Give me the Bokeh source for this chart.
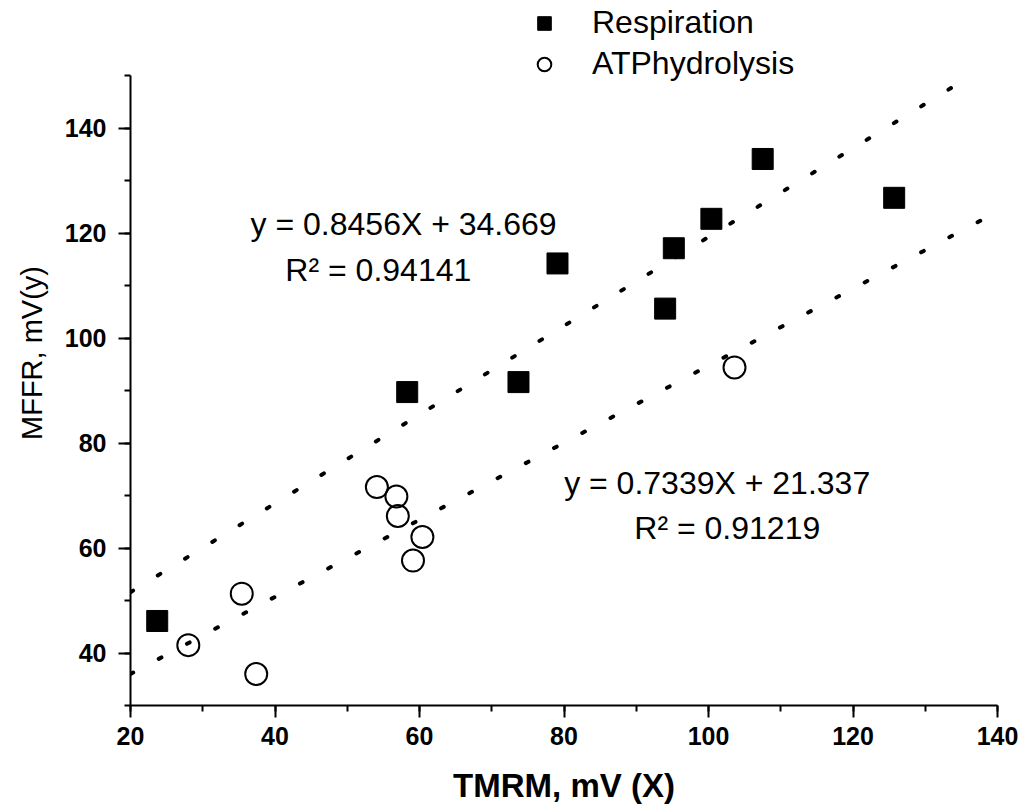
from bokeh.plotting import figure
from bokeh.models import (Range1d, SingleIntervalTicker, Label, Legend, LegendItem)
from bokeh.embed import file_html
from bokeh.resources import INLINE

# ---- data ----
resp_x = [23.7, 58.3, 73.7, 79.1, 94.0, 95.2, 100.4, 107.5, 125.7]
resp_y = [46.1, 89.7, 91.6, 114.2, 105.6, 117.1, 122.7, 134.1, 126.7]

atp_x = [28.0, 35.4, 37.4, 54.1, 56.8, 57.0, 60.4, 59.1, 103.6]
atp_y = [41.5, 51.3, 36.0, 71.6, 69.8, 66.1, 62.1, 57.6, 94.4]

fit_resp = (0.8456, 34.669)
fit_atp = (0.7339, 21.337)

x_lim = (20, 140)
y_lim = (30, 150)

eq_resp = "y = 0.8456X + 34.669"
r2_resp = "R\u00b2 = 0.94141"
eq_atp = "y = 0.7339X + 21.337"
r2_atp = "R\u00b2 = 0.91219"

series_names = ["Respiration", "ATPhydrolysis"]

FONT = "Liberation Sans"

# frame reaches the top of the page; axis drawn only over the data bounds
PX_PER_Y = 630 / (y_lim[1] - y_lim[0])
y_top = y_lim[1] + 75 / PX_PER_Y

p = figure(frame_width=867, frame_height=705,
           min_border_left=130, min_border_right=30,
           min_border_top=0, min_border_bottom=102,
           x_range=Range1d(*x_lim), y_range=Range1d(y_lim[0], y_top),
           output_backend="svg", toolbar_location=None,
           background_fill_color="white", border_fill_color="white")

p.outline_line_color = None
p.xgrid.visible = False
p.ygrid.visible = False

p.xaxis.ticker = SingleIntervalTicker(interval=20, num_minor_ticks=2)
p.yaxis.ticker = SingleIntervalTicker(interval=20, num_minor_ticks=2)
p.yaxis.bounds = y_lim
p.xaxis.bounds = x_lim

for ax in (p.xaxis, p.yaxis):
    ax.axis_line_width = 2
    ax.axis_line_color = "black"
    ax.major_tick_line_width = 2
    ax.minor_tick_line_width = 2
    ax.major_tick_line_color = "black"
    ax.minor_tick_line_color = "black"
    ax.major_tick_in = 0
    ax.major_tick_out = 12
    ax.minor_tick_in = 0
    ax.minor_tick_out = 6
    ax.major_label_text_font = FONT
    ax.major_label_text_font_style = "bold"
    ax.major_label_text_font_size = "25px"
    ax.major_label_text_color = "black"
    ax.axis_label_text_font = FONT
    ax.axis_label_text_color = "black"

p.xaxis.axis_label = "TMRM, mV (X)"
p.xaxis.axis_label_text_font_style = "bold"
p.xaxis.axis_label_text_font_size = "33px"
p.xaxis.major_label_standoff = 9
p.xaxis.axis_label_standoff = 19

p.yaxis.axis_label = "MFFR, mV(y)"
p.yaxis.axis_label_text_font_style = "normal"
p.yaxis.axis_label_text_font_size = "29px"
p.yaxis.major_label_standoff = 12
p.yaxis.axis_label_standoff = 14

# fit lines, limited to the axes' box
for (m, b) in (fit_resp, fit_atp):
    x_end = min(x_lim[1], (y_lim[1] - b) / m)
    xs = [x_lim[0], x_end]
    ys = [m * x + b for x in xs]
    p.line(xs, ys, line_color="black", line_width=4,
           line_dash="3 29", line_cap="round")

r1 = p.scatter(resp_x, resp_y, marker="square", size=21,
               fill_color="black", line_color="black", line_width=1)
r2 = p.scatter(atp_x, atp_y, marker="circle", size=22,
               fill_color=None, line_color="black", line_width=2)

for txt, x, y in ((eq_resp, 57.8, 121.8), (r2_resp, 54.3, 112.9),
                  (eq_atp, 101.2, 72.3), (r2_atp, 102.6, 63.9)):
    p.add_layout(Label(x=x, y=y, text=txt, text_align="center",
                       text_baseline="middle", text_font=FONT,
                       text_font_size="32px", text_color="black"))

legend = Legend(items=[LegendItem(label=series_names[0], renderers=[r1]),
                       LegendItem(label=series_names[1], renderers=[r2])],
                location=(397, 623), padding=0, margin=0, spacing=4,
                glyph_width=34, glyph_height=34, label_height=34,
                label_standoff=31, label_text_font=FONT,
                label_text_font_size="32px", label_text_color="black",
                border_line_color=None, background_fill_alpha=0)
p.add_layout(legend, "center")

open("out.html", "w").write(file_html(p, INLINE))
